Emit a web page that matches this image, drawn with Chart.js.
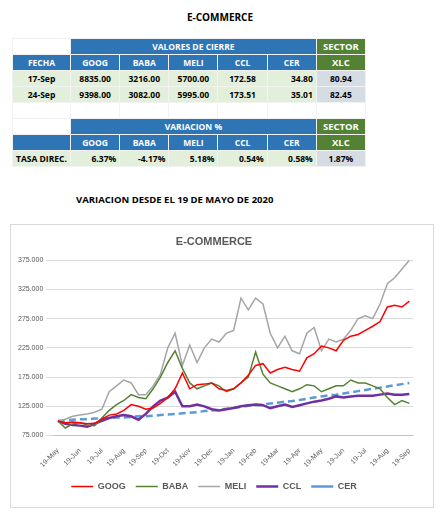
<!DOCTYPE html>
<html>
<head>
<meta charset="utf-8">
<script src="https://cdn.jsdelivr.net/npm/chart.js@4/dist/chart.umd.min.js"></script>
<style>
  body { margin: 0; background: #fff; font-family: "Open Sans", Lato, sans-serif; }
  h1 { font-size: 10px; font-weight: bold; text-align: center; margin: 0; position: absolute; top: 10px; left: 0; width: 440px; }
  table { position: absolute; left: 12px; width: 412px; table-layout: fixed; border-collapse: collapse; font-size: 8.5px; font-weight: bold; }
  td { height: 15px; padding: 0 3px; text-align: center; border: 1px solid #f2f2f2; white-space: nowrap; }
  .bl { background: #2e75b6; color: #fff; }
  .gr { background: #548235; color: #fff; font-size: 9.5px; }
  .lg { background: #e2efda; }
  .gy { background: #d6dce4; }
  .r { text-align: right; }
  h2 { position: absolute; top: 193px; left: 76px; font-size: 9.5px; margin: 0; }
  #box { position: absolute; left: 10px; top: 224px; width: 422px; height: 282px; border: 1px solid #d9d9d9; }
</style>
</head>
<body>
<h1>E-COMMERCE</h1>
<table style="top:38px">
  <colgroup><col style="width:58px"><col><col><col><col><col><col><col style="width:58px"></colgroup>
  <tr><td style="background:#fff"></td><td class="bl" colspan="5">VALORES DE CIERRE</td><td class="gr">SECTOR</td></tr>
  <tr id="h1" class="bl"></tr>
  <tbody id="rows1"></tbody>
  <tr><td></td><td></td><td></td><td></td><td></td><td></td><td></td></tr>
  <tr><td style="background:#fff"></td><td class="bl" colspan="5">VARIACION %</td><td class="gr">SECTOR</td></tr>
  <tr id="h2" class="bl"></tr>
  <tr id="var"></tr>
</table>
<h2>VARIACION DESDE EL 19 DE MAYO DE 2020</h2>
<div id="box"><canvas id="c"></canvas></div>
<script>
const tickers = ["GOOG", "BABA", "MELI", "CCL", "CER"];
const closeDates = ["17-Sep", "24-Sep"];
const closeValues = [
  ["8835.00", "3216.00", "5700.00", "172.58", "34.80", "80.94"],
  ["9398.00", "3082.00", "5995.00", "173.51", "35.01", "82.45"]
];
const variation = ["6.37%", "-4.17%", "5.18%", "0.54%", "0.58%", "1.87%"];

const months = ["19-May", "19-Jun", "19-Jul", "19-Aug", "19-Sep", "19-Oct", "19-Nov", "19-Dec", "19-Jan", "19-Feb", "19-Mar", "19-Apr", "19-May", "19-Jun", "19-Jul", "19-Aug", "19-Sep"];
const goog = [100,97,98, 97,95,96, 103,110,112, 118,128,125, 120,122,130, 140,155,182, 155,162,163, 165,155,152, 155,165,178, 195,198,182, 188,192,188, 185,208,215, 228,225,220, 238,245,248, 255,262,270, 295,298,295, 305,312,318, 335];
const baba = [100,88,95, 97,93,92, 105,118,128, 135,145,140, 138,155,175, 200,220,190, 165,155,160, 165,160,150, 155,165,175, 218,180,165, 160,155,150, 155,162,160, 150,155,160, 160,170,165, 165,160,155, 140,128,135, 130,125,124];
const meli = [100,103,108, 110,112,115, 120,150,160, 170,165,145, 145,160,180, 225,250,195, 230,200,225, 240,235,250, 255,310,290, 310,300,250, 225,245,220, 215,250,260, 220,240,235, 240,255,275, 280,275,300, 335,345,360, 375];
const ccl = [100,95,93, 92,90,95, 100,105,108, 110,108,102, 112,125,135, 140,150,125, 125,128,125, 120,118,120, 122,125,127, 128,127,122, 125,128,124, 127,130,133, 135,138,142, 140,142,143, 143,143,145, 147,145,145, 146,147,148];
const cer = [100,101,102,103,103,104,104,105,106,106, 107,108,108,109,110,111,112,113,114,115, 117,118,119,121,122,124,126,127,128,130, 131,133,134,136,138,140,142,144,145,147, 149,151,153,155,157,159,161,163,165];

// table
document.getElementById("h1").innerHTML = "<td>FECHA</td>" + tickers.map(t => `<td>${t}</td>`).join("") + '<td class="gr">XLC</td>';
document.getElementById("h2").innerHTML = "<td></td>" + tickers.map(t => `<td>${t}</td>`).join("") + '<td class="gr">XLC</td>';
document.getElementById("rows1").innerHTML = closeDates.map((d, i) =>
  `<tr class="lg"><td>${d}</td>` + closeValues[i].slice(0, 5).map((v, j) => `<td class="${j == 4 ? 'r' : ''}">${v}</td>`).join("") +
  `<td class="gy">${closeValues[i][5]}</td></tr>`).join("");
document.getElementById("var").innerHTML = '<td class="lg" style="text-align:left">TASA DIREC.</td>' +
  variation.slice(0, 5).map(v => `<td class="lg r">${v}</td>`).join("") + `<td class="gy">${variation[5]}</td>`;

// labels: one per month, two blank steps between
const labels = [];
months.forEach((m, i) => { labels.push(m); if (i < months.length - 1) labels.push("", ""); });

const line = (label, data, color, width, dash) => ({
  label, data, borderColor: color, backgroundColor: color, borderWidth: width,
  borderDash: dash || [], pointRadius: 0, tension: 0
});

new Chart(document.getElementById("c"), {
  type: "line",
  data: {
    labels,
    datasets: [
      line("GOOG", goog, "#ff0000", 1.5),
      line("BABA", baba, "#548235", 1.5),
      line("MELI", meli, "#a5a5a5", 1.5),
      line("CCL", ccl, "#7030a0", 2.5),
      line("CER", cer, "#5b9bd5", 2.5, [7, 4])
    ]
  },
  options: {
    responsive: true, maintainAspectRatio: false, animation: false,
    layout: { padding: { left: 4, right: 20, top: 2, bottom: 6 } },
    plugins: {
      title: { display: true, text: "E-COMMERCE", color: "#595959", font: { size: 11, weight: "bold" }, padding: { top: 8, bottom: 12 } },
      legend: {
        position: "bottom",
        labels: { usePointStyle: true, pointStyle: "line", pointStyleWidth: 22, color: "#595959", font: { size: 9, weight: "bold" }, padding: 10 }
      }
    },
    scales: {
      x: {
        offset: true,
        grid: { display: false },
        ticks: { autoSkip: false, maxRotation: 45, minRotation: 45, color: "#595959", font: { size: 7 } }
      },
      y: {
        min: 75, max: 375,
        border: { display: false },
        grid: { color: "#d9d9d9" },
        ticks: { stepSize: 50, color: "#595959", font: { size: 7 }, callback: v => v.toFixed(3) }
      }
    }
  }
});
</script>
</body>
</html>
